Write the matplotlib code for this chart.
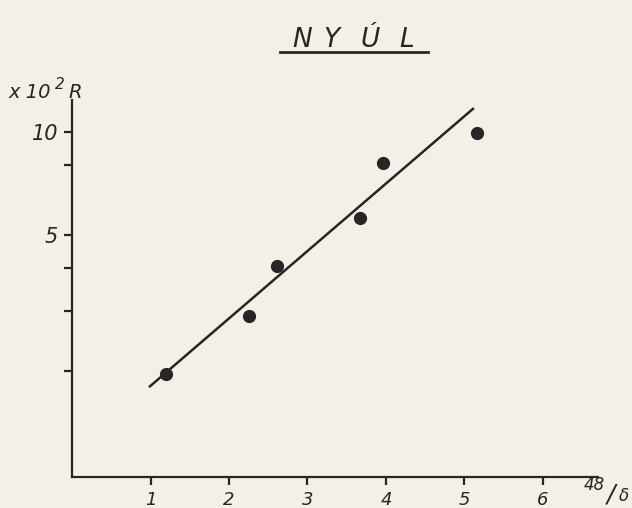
import matplotlib.pyplot as plt
from matplotlib.lines import Line2D

# measured points (x = 48/delta, y = R x 10^2)
x_vals = [1.20, 2.25, 2.61, 3.67, 3.96, 5.16]
r_vals = [1.96, 2.90, 4.06, 5.60, 8.12, 9.93]

# hand-fitted line
fit_x = [0.98, 5.12]
fit_r = [1.79, 11.75]

x_ticks = [1, 2, 3, 4, 5, 6]
y_ticks = [2, 3, 4, 5, 8, 10]
y_labels = ["", "", "", "5", "", "10"]

title_letters = ["N", "Y", "Ú", "L"]
title_x = [302, 331, 370, 407]

paper = "#f4f0e7"
ink = "#262626"
W, H = 632, 508

fig = plt.figure(figsize=(6.32, 5.08), dpi=100, facecolor=paper)
ax = fig.add_axes([0.114, 0.061, 0.832, 0.742])
ax.set_facecolor(paper)

ax.plot(fit_x, fit_r, color=ink, lw=1.8, solid_capstyle="butt")
ax.plot(x_vals, r_vals, "o", color=ink, ms=8.5)

ax.set_yscale("log")
ax.set_xlim(0, 6.70)
ax.set_ylim(0.977, 12.4)

for side in ["top", "right"]:
    ax.spines[side].set_visible(False)
for side in ["left", "bottom"]:
    ax.spines[side].set_linewidth(1.6)
    ax.spines[side].set_color(ink)

ax.set_xticks(x_ticks)
ax.set_xticklabels([str(t) for t in x_ticks], fontsize=13, style="italic", color=ink)
ax.set_yticks(y_ticks)
ax.set_yticks([], minor=True)
ax.set_yticklabels(y_labels, fontsize=15, style="italic", color=ink)
ax.tick_params(axis="both", direction="out", length=6, width=1.6, color=ink, pad=4)


def px_text(x, y, s, size, **kw):
    # place text using pixel coordinates measured from the top-left corner
    fig.text(x / W, 1 - y / H, s, fontsize=size, color=ink, **kw)


# y-axis unit label
px_text(8, 98, "x 10", 14, style="italic", ha="left", va="baseline")
px_text(55, 89, "2", 11, style="italic", ha="left", va="baseline")
px_text(68, 98, "R", 14, style="italic", ha="left", va="baseline")

# x-axis unit label
px_text(584, 490, "48", 12, style="italic", ha="left", va="baseline")
px_text(607, 502, "/", 18, style="italic", ha="left", va="baseline")
px_text(619, 501, "δ", 12, style="italic", ha="left", va="baseline")

# underlined title
for letter, lx in zip(title_letters, title_x):
    px_text(lx, 47, letter, 19, style="italic", ha="center", va="baseline")
fig.add_artist(Line2D([280 / W, 428 / W], [1 - 52 / H, 1 - 52 / H], color=ink, lw=2))

fig.savefig("out.png", dpi=100, facecolor=paper)
